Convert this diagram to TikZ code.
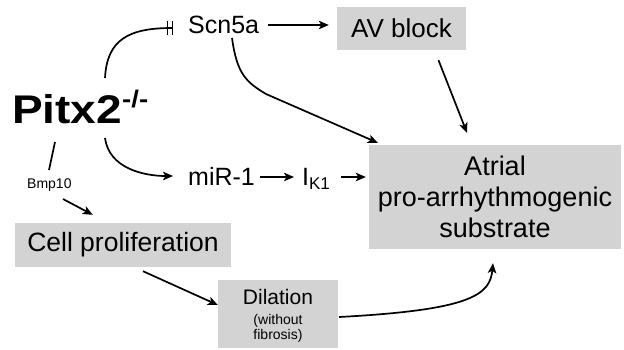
\documentclass[tikz,border=0pt]{standalone}
\usepackage{fontspec}
\setmainfont{Liberation Sans}
\usetikzlibrary{arrows.meta,calc}
\definecolor{boxgray}{RGB}{211,211,211}

\begin{document}
\begin{tikzpicture}[
  x=1pt, y=-1pt,
  every node/.style={inner sep=0pt},
  lbl/.style={font=\fontsize{25}{25}\selectfont},
  graybox/.style={fill=boxgray, align=center},
  link/.style={line width=1.7pt},
  arr/.style={link, -{Stealth[length=10pt,width=8.5pt,inset=2.5pt]}},
  blocked/.style={link, -{Bar[width=14pt,line width=1.3pt,sep=3.5pt]Bar[width=14pt,line width=1.3pt]}},
]
  \useasboundingbox (0,0) rectangle (624,349);

  % Pitx2 knockout
  \node[anchor=base west] (pitx) at (12,123)
    {\scalebox{1.15}[1]{\fontsize{40}{40}\selectfont\bfseries Pitx2\raisebox{16pt}{\fontsize{24}{24}\selectfont -/-}}};

  % Scn5a branch
  \node[lbl, anchor=base west] (scn) at (188,33) {Scn5a};
  \node[graybox, font=\fontsize{26}{26}\selectfont, minimum width=129pt, minimum height=43pt] (av) at (401.5,28.5) {AV block};
  \node[graybox, font=\fontsize{27}{31}\selectfont, minimum width=252pt, minimum height=104pt] (sub) at (495,197)
    {Atrial\\pro-arrhythmogenic\\substrate};

  % miR-1 branch
  \node[lbl, anchor=base west] (mir) at (188,185) {miR-1};
  \node[lbl, anchor=base west] (ik) at (302,185) {I\raisebox{-4pt}{\fontsize{17}{17}\selectfont K1}};

  % Bmp10 branch
  \node[font=\fontsize{14}{14}\selectfont, anchor=base west] (bmp) at (27,188) {Bmp10};
  \node[graybox, font=\fontsize{26.5}{26.5}\selectfont, minimum width=216pt, minimum height=44pt] (prol) at (123,245) {Cell proliferation};
  \node[graybox, minimum width=120pt, minimum height=68pt] (dil) at (278,314) {};
  \node[align=center, font=\fontsize{14}{15}\selectfont, anchor=base] (dilt) at (278,339)
    {{\fontsize{21}{21}\selectfont Dilation}\\[5pt](without\\fibrosis)};

  % connectors
  \draw[blocked] ($(pitx.base west)+(93,-45)$) .. controls +(2,-38) and +(-45,0) .. ($(scn.base west)+(-15,-5)$);
  \draw[arr] ($(scn.base east)+(9,-8)$) -- ($(av.west)+(-8,-3.5)$);
  \draw[arr] ($(av.south)+(37,10)$) -- ($(sub.north)+(-28,-12)$);
  \draw[arr] ($(scn.base west)+(44,5)$) .. controls +(5,36) and +(-20,-12) .. (266,94) -- ($(sub.north west)+(9,-2)$);
  \draw[arr] ($(pitx.base west)+(93,15)$) .. controls +(4,30) and +(-30,0) .. ($(mir.base west)+(-15,-9)$);
  \draw[link] ($(pitx.base west)+(43,19)$) -- ($(bmp.base west)+(22,-18)$);
  \draw[arr] ($(bmp.base west)+(36,11)$) -- ($(prol.north west)+(78,-8)$);
  \draw[arr] ($(mir.base east)+(5,-8)$) -- ($(ik.base west)+(-8,-8)$);
  \draw[arr] ($(ik.base east)+(11,-8)$) -- ($(sub.west)+(-3,-20)$);
  \draw[arr] ($(prol.south)+(20,4)$) -- ($(dil.west)+(0,-9)$);
  \draw[arr] ($(dil.east)+(1,3)$) .. controls +(131,-7) and +(-3,32) .. ($(sub.south)+(-2,14)$);
\end{tikzpicture}
\end{document}
